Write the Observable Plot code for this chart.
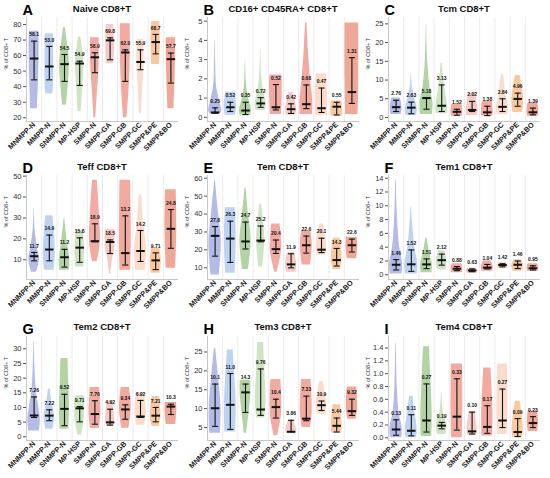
<!DOCTYPE html>
<html><head><meta charset="utf-8">
<script src="https://cdn.jsdelivr.net/npm/d3@7"></script>
<script src="https://cdn.jsdelivr.net/npm/@observablehq/plot@0.6"></script>
<style>
body{margin:0;background:#fff;}
#wrap{position:relative;width:550px;height:478px;overflow:hidden;font-family:"Liberation Sans",Arial,sans-serif;}
.panel{position:absolute;}
.panel svg{overflow:visible;}
g[aria-label="x-axis tick label"] text{font-weight:bold;}
#overlay{position:absolute;left:0;top:0;}
</style></head><body><div id="wrap"></div>
<script>
// ---------- categories & colours ----------
const groups = ["MNMPP-N","MMPP-N","SNMPP-N","MP-HSP","SMPP-N","SMPP-GA","SMPP-GB","SMPP-GC","SMPP&PE","SMPP&BO"];
const groupColors = ["#b3bbe6","#bdd3f1","#b2d3a3","#cfe4c3","#f1aba3","#f7cbc5","#f1a9a0","#fbdccc","#f9c89f","#efa898"];

// ---------- A: Naive CD8+T ----------
const naiveMedian = [58.1,53.0,54.5,54.9,58.9,69.8,62.0,55.9,68.7,57.7];
const naiveLow    = [44.4,44.4,43.4,40.8,49.0,57.3,43.4,50.9,61.1,42.3];
const naiveHigh   = [69.3,65.9,60.7,56.4,61.8,71.4,63.7,63.7,73.6,61.6];
const naiveDensity = [
 [[25.8,0.55],[45,0.75],[65,0.85],[75.7,0.8]],
 [[35.4,0.6],[45,0.75],[60,0.72],[74,0.7]],
 [[28,0.3],[40,0.6],[55,0.83],[68,0.5],[77.9,0.15]],
 [[24,0.25],[40,0.5],[55,0.72],[65,0.45],[71.9,0.2]],
 [[20,0.15],[35,0.4],[55,0.72],[71.4,0.72]],
 [[54.7,0.6],[65,0.75],[80,0.62]],
 [[20,0.3],[40,0.65],[60,0.83],[80.4,0.83]],
 [[22.6,0.15],[40,0.4],[58,0.6],[70.4,0.5]],
 [[54.3,0.65],[68,0.8],[82,0.7]],
 [[25.8,0.5],[45,0.7],[60,0.78],[71.4,0.78]]
];
const naiveTicks = [20,30,40,50,60,70,80];

// ---------- B: CD16+ CD45RA+ CD8+T ----------
const cd16Median = [0.25,0.52,0.35,0.72,0.52,0.42,0.68,0.47,0.55,1.31];
const cd16Low    = [0.21,0.30,0.14,0.52,0.38,0.20,0.45,0.25,0.12,0.72];
const cd16High   = [0.49,0.78,0.78,1.02,1.70,0.70,1.68,1.52,0.78,3.10];
const cd16Density = [
 [[0.17,0.9],[0.35,1.1],[0.9,0.7],[1.6,0.25],[2.8,0.1],[4.0,0.04]],
 [[0.1,0.85],[0.5,1.05],[1.0,0.9],[1.3,0.75]],
 [[0.1,0.9],[0.4,1.0],[1.0,0.5],[1.8,0.15],[2.95,0.04]],
 [[0.35,0.75],[0.7,0.95],[1.2,0.6],[2.0,0.2],[3.5,0.04]],
 [[0.15,0.95],[1.0,1.05],[2.0,1.05],[2.2,1.0]],
 [[0.1,0.8],[0.4,0.95],[1.0,0.6],[1.28,0.45]],
 [[0.15,1.05],[0.8,1.1],[2.0,0.7],[3.5,0.35],[4.9,0.12]],
 [[0.1,1.0],[1.0,1.05],[2.25,0.9]],
 [[0.05,0.95],[0.5,1.0],[0.85,0.85]],
 [[0.15,1.05],[2.0,1.15],[4.9,1.15]]
];
const cd16Ticks = [0,1,2,3,4,5];

// ---------- C: Tcm CD8+T ----------
const tcmMedian = [2.76,2.63,5.18,3.13,1.52,2.02,1.38,2.84,4.96,1.39];
const tcmLow    = [1.6,1.0,2.2,1.6,0.6,1.6,0.5,1.6,3.0,0.7];
const tcmHigh   = [4.6,4.1,5.3,8.7,2.2,4.3,3.0,5.0,6.5,2.5];
const tcmDensity = [
 [[0.8,0.85],[2.5,1.0],[4.0,0.9],[5.2,0.7]],
 [[0.5,0.9],[2.5,1.0],[5,0.6],[8,0.2],[11.5,0.05]],
 [[0.8,1.0],[4,1.1],[8,0.6],[15,0.2],[25,0.03]],
 [[1.0,0.9],[3,1.0],[7,0.6],[11,0.3],[14.5,0.1]],
 [[0.3,0.9],[1.5,1.0],[3.5,0.85]],
 [[0.5,0.9],[2,1.0],[4.5,0.8],[6.5,0.6]],
 [[0.3,0.9],[1.5,1.0],[4.3,0.85]],
 [[0.8,0.9],[3,1.0],[6,0.6],[11.5,0.2]],
 [[1.3,0.8],[4.5,1.0],[8,0.75],[11.3,0.4]],
 [[0.3,0.9],[1.5,1.0],[3.8,0.85]]
];
const tcmTicks = [0,5,10,15,20,25];

// ---------- D: Teff CD8+T ----------
const teffMedian = [11.7,14.9,11.2,15.8,18.9,18.5,13.2,14.2,9.71,24.8];
const teffLow    = [9.5,9.5,6.5,8.8,18.6,13.0,7.5,9.2,5.3,15.5];
const teffHigh   = [13.5,21.8,15.0,20.5,27.2,19.5,31.0,24.0,13.3,34.0];
const teffDensity = [
 [[4,0.4],[10,0.9],[15,0.6],[25,0.15],[34.5,0.03]],
 [[5,0.8],[12,1.0],[25,0.8],[31,0.6]],
 [[5,0.8],[10,0.9],[18,0.5],[30,0.05]],
 [[6.5,0.7],[15,0.8],[24,0.6]],
 [[9,0.4],[18,0.9],[30,0.8],[40,0.6],[48,0.4]],
 [[3,0.1],[10,0.4],[16,0.8],[24.5,0.8]],
 [[5,0.9],[20,1.0],[48,0.9]],
 [[5,0.8],[15,1.0],[28,0.5],[41,0.2]],
 [[3.5,0.7],[9,0.95],[15.5,0.7]],
 [[6,0.8],[25,1.0],[43.5,0.9]]
];
const teffTicks = [10,20,30,40,50];

// ---------- E: Tem CD8+T ----------
const temMedian = [27.8,26.3,24.7,25.2,20.4,11.9,22.6,20.1,14.3,22.6];
const temLow    = [16.5,13.0,20.5,24.5,18.0,10.0,18.2,18.5,11.0,18.8];
const temHigh   = [33.0,36.0,35.5,33.3,25.5,17.8,27.7,26.5,20.8,26.0];
const temDensity = [
 [[6,0.7],[25,1.05],[40,0.6],[59,0.05]],
 [[7,0.8],[25,1.0],[43.5,0.85]],
 [[9,0.5],[25,0.95],[40,0.5],[54.5,0.08]],
 [[10.5,0.3],[25,0.7],[35,0.5],[45.5,0.15]],
 [[7.5,0.2],[20,0.95],[34.5,0.7]],
 [[7.5,0.8],[12,0.95],[18.5,0.6]],
 [[11.5,0.7],[22,1.0],[30.5,0.8]],
 [[17,0.7],[22,0.9],[34.5,0.3]],
 [[9,0.6],[15,0.9],[26.5,0.6]],
 [[15,0.8],[22,1.0],[27,0.9]]
];
const temTicks = [10,20,30,40,50,60];

// ---------- F: Tem1 CD8+T ----------
const tem1Median = [1.46,1.52,1.51,2.12,0.88,0.63,1.04,1.42,1.46,0.95];
const tem1Low    = [0.7,0.5,0.9,1.4,0.6,0.45,0.85,1.15,0.9,0.7];
const tem1High   = [2.2,3.6,2.3,3.0,1.2,0.85,1.5,1.6,2.0,1.3];
const tem1Density = [
 [[0.1,1.0],[1.5,1.1],[4,0.6],[8,0.25],[13.7,0.05]],
 [[0.1,1.0],[1.5,1.1],[4,0.6],[7,0.25],[9.8,0.05]],
 [[0.3,0.9],[1.5,1.0],[3,0.6],[5.3,0.1]],
 [[0.7,0.7],[2,0.9],[3.5,0.5]],
 [[0.3,0.9],[0.9,1.0],[1.6,0.8]],
 [[0.2,0.8],[0.6,1.0],[1.0,0.7]],
 [[0.5,0.9],[1.2,1.0],[2.0,0.6]],
 [[0.9,0.8],[1.4,0.9],[1.8,0.6]],
 [[0.5,0.8],[1.4,1.0],[2.2,0.6]],
 [[0.5,0.9],[1.0,1.0],[1.6,0.8]]
];
const tem1Ticks = [0,2,4,6,8,10,12,14];

// ---------- G: Tem2 CD8+T ----------
const tem2Median = [7.26,7.22,9.52,9.71,7.76,4.92,9.34,6.92,7.21,10.3];
const tem2Low    = [6.6,5.5,3.8,5.1,4.3,4.0,6.0,6.6,5.1,7.6];
const tem2High   = [13.6,9.2,14.5,10.3,12.3,9.4,10.9,12.4,10.0,11.1];
const tem2Density = [
 [[2.0,0.9],[6,1.05],[10,0.8],[16,0.35],[24,0.15],[32.4,0.03]],
 [[2.6,0.6],[7,0.9],[11,0.5],[16.3,0.15]],
 [[2.6,0.75],[10,0.85],[20,0.7],[26.7,0.6]],
 [[0.6,0.3],[5,0.7],[10,0.85],[14.0,0.75]],
 [[2.8,0.75],[8,1.0],[16.8,0.8]],
 [[3.5,0.6],[6,0.75],[12.3,0.45]],
 [[2.9,0.6],[10,1.0],[16.8,0.7]],
 [[3.9,0.7],[8,0.95],[15.1,0.7]],
 [[3.5,0.6],[7,0.9],[13.7,0.6]],
 [[4.2,0.8],[9,1.0],[11.7,0.95]]
];
const tem2Ticks = [0,5,10,15,20,25,30];

// ---------- H: Tem3 CD8+T ----------
const tem3Median = [10.1,11.0,14.3,9.76,10.4,3.86,7.33,10.9,5.44,9.32];
const tem3Low    = [5.3,4.5,9.0,8.2,7.5,3.9,6.8,9.5,3.8,8.2];
const tem3High   = [16.5,19.3,16.5,20.5,12.5,6.9,13.3,12.0,7.5,12.5];
const tem3Density = [
 [[3.5,0.9],[10,1.0],[18,0.6],[26,0.1]],
 [[3.8,0.9],[11,1.0],[20,0.7],[25.5,0.5]],
 [[3.5,0.2],[9,0.6],[14,0.9],[17.5,0.9]],
 [[7.5,0.7],[12,0.9],[20,0.7],[27.5,0.5]],
 [[2.8,0.3],[8,0.9],[12,1.0],[17.7,0.85]],
 [[3.5,0.8],[4.5,0.9],[7,0.4]],
 [[5,0.7],[9,1.0],[17.7,0.8]],
 [[8.5,0.7],[11,0.9],[17.2,0.3]],
 [[3.5,0.8],[6,0.9],[11,0.6]],
 [[7.2,0.7],[10,0.95],[15.7,0.8]]
];
const tem3Ticks = [5,10,15,20,25];

// ---------- I: Tem4 CD8+T ----------
const tem4Median = [0.13,0.11,0.27,0.19,0.33,0.10,0.17,0.27,0.09,0.23];
const tem4Low    = [0.04,0.03,0.09,0.14,0.12,0.06,0.07,0.16,0.02,0.16];
const tem4High   = [0.28,0.36,0.84,0.24,0.92,0.40,0.50,0.76,0.30,0.33];
const tem4Density = [
 [[0,0.95],[0.15,1.05],[0.4,0.5],[0.8,0.2],[1.47,0.05]],
 [[0,0.9],[0.15,1.0],[0.4,0.6],[0.65,0.3]],
 [[0.02,0.9],[0.4,0.95],[1.0,0.7],[1.42,0.5]],
 [[0.05,0.7],[0.2,0.9],[0.4,0.3],[0.7,0.05]],
 [[0,0.9],[0.5,1.0],[1.15,0.95]],
 [[0.04,0.7],[0.1,0.85],[0.41,0.5]],
 [[0.03,0.9],[0.4,0.95],[1.09,0.6]],
 [[0.05,0.8],[0.4,0.95],[1.15,0.8]],
 [[0,0.8],[0.15,0.95],[0.57,0.4]],
 [[0.1,0.8],[0.25,0.95],[0.42,0.8]]
];
const tem4Ticks = [0,0.2,0.4,0.6,0.8,1.0,1.2,1.4];

// ---------- panel table ----------
const panels = [
 {letter:"A", title:"Naive CD8+T", median:naiveMedian, low:naiveLow, high:naiveHigh, density:naiveDensity, ticks:naiveTicks, domain:[17.6,84.5], fmt:d3.format("d")},
 {letter:"B", title:"CD16+ CD45RA+ CD8+T", median:cd16Median, low:cd16Low, high:cd16High, density:cd16Density, ticks:cd16Ticks, domain:[-0.22,5.19], fmt:d3.format("d")},
 {letter:"C", title:"Tcm CD8+T", median:tcmMedian, low:tcmLow, high:tcmHigh, density:tcmDensity, ticks:tcmTicks, domain:[-1.07,26.7], fmt:d3.format("d")},
 {letter:"D", title:"Teff CD8+T", median:teffMedian, low:teffLow, high:teffHigh, density:teffDensity, ticks:teffTicks, domain:[0.57,50.3], fmt:d3.format("d")},
 {letter:"E", title:"Tem CD8+T", median:temMedian, low:temLow, high:temHigh, density:temDensity, ticks:temTicks, domain:[3.47,61.5], fmt:d3.format("d")},
 {letter:"F", title:"Tem1 CD8+T", median:tem1Median, low:tem1Low, high:tem1High, density:tem1Density, ticks:tem1Ticks, domain:[-0.68,14.39], fmt:d3.format("d")},
 {letter:"G", title:"Tem2 CD8+T", median:tem2Median, low:tem2Low, high:tem2High, density:tem2Density, ticks:tem2Ticks, domain:[-1.26,34.2], fmt:d3.format("d")},
 {letter:"H", title:"Tem3 CD8+T", median:tem3Median, low:tem3Low, high:tem3High, density:tem3Density, ticks:tem3Ticks, domain:[1.55,29.1], fmt:d3.format("d")},
 {letter:"I", title:"Tem4 CD8+T", median:tem4Median, low:tem4Low, high:tem4High, density:tem4Density, ticks:tem4Ticks, domain:[-0.042,1.58], fmt:d3.format(".1f")}
];

const colLeft = [0,181,362];
const rowTop = [0,158,318.7];
const W = 183, H = 158, ML = 26, MR = 5, MT = 17, MB = 37;
const halfW = 0.39;
const valueLabel = v => v < 10 ? v.toFixed(2) : v.toFixed(1);
const font = "Liberation Sans, Arial, sans-serif";

const wrap = document.getElementById("wrap");

function makePanel(p) {
  const rows = [];
  p.density.forEach((prof, i) => prof.forEach(([v, w]) => rows.push({i, v, w, c: groupColors[i]})));
  const stats = groups.map((g, i) => ({i, g, med: p.median[i], lo: p.low[i], hi: p.high[i]}));
  return Plot.plot({
    width: W, height: H, marginLeft: ML, marginRight: MR, marginTop: MT, marginBottom: MB,
    style: {fontFamily: font, background: "transparent", color: "#333"},
    x: {domain: [-0.5, 9.5], axis: null},
    y: {domain: p.domain, axis: null},
    marks: [
      Plot.gridX([0.5,1.5,2.5,3.5,4.5,5.5,6.5,7.5,8.5], {stroke: "#ebebeb", strokeOpacity: 1}),
      Plot.ruleY([p.domain[0]], {stroke: "#c8c8c8"}),
      Plot.ruleX([-0.5], {stroke: "#c8c8c8"}),
      Plot.areaX(rows, {y: "v", x1: d => d.i - d.w * halfW, x2: d => d.i + d.w * halfW, z: "i", fill: "c", curve: "catmull-rom"}),
      Plot.ruleX(stats, {x: "i", y1: "lo", y2: "hi", stroke: "#111", strokeWidth: 1.1}),
      Plot.link(stats, {x1: d => d.i - 0.2, x2: d => d.i + 0.2, y1: "lo", y2: "lo", stroke: "#111", strokeWidth: 1.1}),
      Plot.link(stats, {x1: d => d.i - 0.2, x2: d => d.i + 0.2, y1: "hi", y2: "hi", stroke: "#111", strokeWidth: 1.1}),
      Plot.link(stats, {x1: d => d.i - 0.28, x2: d => d.i + 0.28, y1: "med", y2: "med", stroke: "#111", strokeWidth: 2}),
      Plot.text(stats, {x: "i", y: "hi", dy: -6.5, text: d => valueLabel(d.med), fontSize: 5, fontWeight: "bold", fill: "#111"}),
      Plot.axisX({ticks: d3.range(10), tickFormat: i => groups[i], tickRotate: -45, tickSize: 0, tickPadding: 2, fontSize: 7.3, fill: "#222", label: null}),
      Plot.axisY({ticks: p.ticks, tickFormat: p.fmt, tickSize: 3, tickPadding: 2, fontSize: 7.5, fill: "#333", stroke: "#555", label: null}),
      Plot.text(["% of CD8+ T"], {frameAnchor: "left", rotate: -90, dx: -20, fontSize: 5.5, fill: "#333"})
    ]
  });
}

panels.forEach((p, k) => {
  const div = document.createElement("div");
  div.className = "panel";
  div.style.left = colLeft[k % 3] + "px";
  div.style.top = rowTop[Math.floor(k / 3)] + "px";
  div.appendChild(makePanel(p));
  wrap.appendChild(div);
});

// letters and titles
const ov = d3.select(wrap).append("svg").attr("id", "overlay").attr("width", 550).attr("height", 478)
  .style("font-family", font);
panels.forEach((p, k) => {
  const x0 = colLeft[k % 3], y0 = rowTop[Math.floor(k / 3)];
  ov.append("text").attr("x", x0 + 22.5).attr("y", y0 + 15).attr("font-size", 14.5).attr("font-weight", "bold").attr("fill", "#000").text(p.letter);
  ov.append("text").attr("x", x0 + ML + (W - ML - MR) / 2).attr("y", y0 + 11.5).attr("text-anchor", "middle").attr("font-size", 9.5).attr("font-weight", "bold").attr("fill", "#111").text(p.title);
});
</script></body></html>
